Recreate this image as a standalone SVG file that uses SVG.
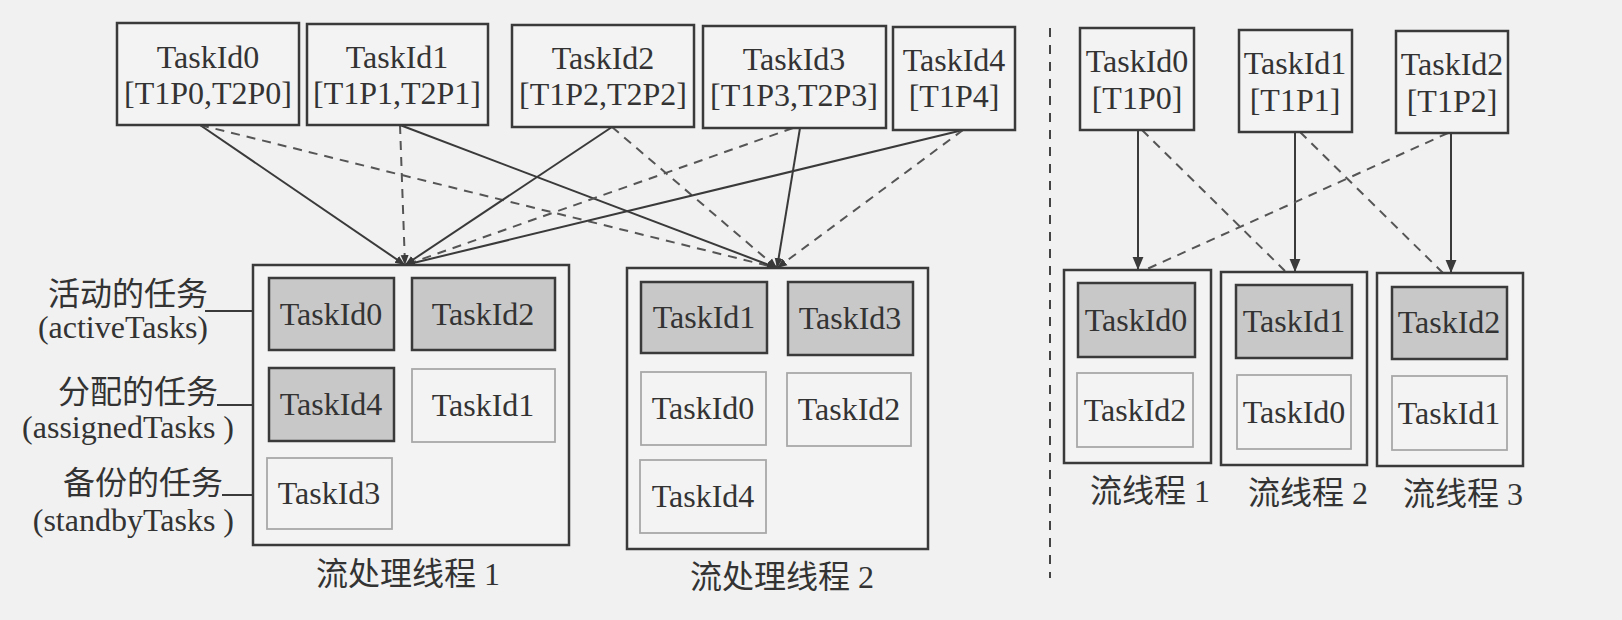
<svg xmlns="http://www.w3.org/2000/svg" width="1622" height="620" viewBox="0 0 1622 620">
<defs>
<style>
text{font-family:"Liberation Serif","Noto Sans CJK SC",serif;font-size:32px;fill:#333;text-anchor:middle}
.lbl{text-anchor:end}
.box{fill:#f3f3f3;stroke:#3a3a3a;stroke-width:2.5}
.act{fill:#c8c8c8;stroke:#3a3a3a;stroke-width:2.5}
.stb{fill:#f3f3f3;stroke:#a8a8a8;stroke-width:1.8}
.sol{fill:none;stroke:#3a3a3a;stroke-width:2}
.dsh{fill:none;stroke:#555;stroke-width:2;stroke-dasharray:9 7}
.lead{fill:none;stroke:#3a3a3a;stroke-width:2}
</style>
<marker id="ah" viewBox="0 0 10 10" refX="10" refY="5" markerWidth="10" markerHeight="10" markerUnits="userSpaceOnUse" orient="auto">
<path d="M0,1 L10,5 L0,9 z" fill="#3a3a3a"/>
</marker>
<marker id="ahb" viewBox="0 0 12 12" refX="12" refY="6" markerWidth="13" markerHeight="13" markerUnits="userSpaceOnUse" orient="auto">
<path d="M0,1 L12,6 L0,11 z" fill="#3a3a3a"/>
</marker>
</defs>
<rect width="1622" height="620" fill="#f1f1f1"/>

<g id="connectors">
<line class="sol" x1="200" y1="125" x2="405" y2="265" marker-end="url(#ah)"/>
<line class="dsh" x1="200" y1="125" x2="777" y2="268" marker-end="url(#ah)"/>
<line class="dsh" x1="400" y1="125" x2="405" y2="265" marker-end="url(#ah)"/>
<line class="sol" x1="400" y1="125" x2="777" y2="268" marker-end="url(#ah)"/>
<line class="sol" x1="612" y1="127" x2="405" y2="265" marker-end="url(#ah)"/>
<line class="dsh" x1="612" y1="127" x2="777" y2="268" marker-end="url(#ah)"/>
<line class="dsh" x1="793" y1="128" x2="405" y2="265" marker-end="url(#ah)"/>
<line class="sol" x1="800" y1="128" x2="777" y2="268" marker-end="url(#ah)"/>
<line class="sol" x1="963" y1="130" x2="405" y2="265" marker-end="url(#ah)"/>
<line class="dsh" x1="963" y1="130" x2="777" y2="268" marker-end="url(#ah)"/>

<line class="sol" x1="1138" y1="130" x2="1138" y2="270" marker-end="url(#ahb)"/>
<line class="dsh" x1="1142" y1="130" x2="1285" y2="271"/>
<line class="sol" x1="1295" y1="132" x2="1295" y2="272" marker-end="url(#ahb)"/>
<line class="dsh" x1="1300" y1="132" x2="1443" y2="273"/>
<line class="sol" x1="1451" y1="133" x2="1451" y2="273" marker-end="url(#ahb)"/>
<line class="dsh" x1="1448" y1="133" x2="1147" y2="269"/>

<line class="lead" x1="205" y1="311" x2="269" y2="311"/>
<line class="lead" x1="217" y1="405" x2="253" y2="405"/>
<line class="lead" x1="222" y1="495" x2="267" y2="495"/>

<line x1="1050" y1="28" x2="1050" y2="578" stroke="#444" stroke-width="2" stroke-dasharray="9 8"/>
</g>

<g id="top-t0"><rect class="box" x="117" y="23" width="182" height="102"/><text x="208" y="68">TaskId0</text><text x="208" y="104">[T1P0,T2P0]</text></g>
<g id="top-t1"><rect class="box" x="307" y="24" width="181" height="101"/><text x="397" y="68">TaskId1</text><text x="397" y="104">[T1P1,T2P1]</text></g>
<g id="top-t2"><rect class="box" x="512" y="25" width="182" height="102"/><text x="603" y="69">TaskId2</text><text x="603" y="105">[T1P2,T2P2]</text></g>
<g id="top-t3"><rect class="box" x="703" y="26" width="183" height="102"/><text x="794" y="70">TaskId3</text><text x="794" y="106">[T1P3,T2P3]</text></g>
<g id="top-t4"><rect class="box" x="893" y="27" width="122" height="103"/><text x="954" y="71">TaskId4</text><text x="954" y="107">[T1P4]</text></g>

<g id="thread1">
<rect class="box" x="253" y="265" width="316" height="280"/>
<rect class="act" x="269" y="278" width="125" height="72"/><text x="331" y="325">TaskId0</text>
<rect class="act" x="412" y="278" width="143" height="72"/><text x="483" y="325">TaskId2</text>
<rect class="act" x="269" y="368" width="125" height="73"/><text x="331" y="415">TaskId4</text>
<rect class="stb" x="412" y="369" width="143" height="73"/><text x="483" y="416">TaskId1</text>
<rect class="stb" x="267" y="458" width="125" height="71"/><text x="329" y="504">TaskId3</text>
<text x="408" y="585">流处理线程 1</text>
</g>

<g id="thread2">
<rect class="box" x="627" y="268" width="301" height="281"/>
<rect class="act" x="641" y="282" width="126" height="71"/><text x="704" y="328">TaskId1</text>
<rect class="act" x="788" y="282" width="125" height="73"/><text x="850" y="329">TaskId3</text>
<rect class="stb" x="641" y="372" width="125" height="73"/><text x="703" y="419">TaskId0</text>
<rect class="stb" x="787" y="373" width="124" height="73"/><text x="849" y="420">TaskId2</text>
<rect class="stb" x="640" y="460" width="126" height="73"/><text x="703" y="507">TaskId4</text>
<text x="782" y="588">流处理线程 2</text>
</g>

<g id="legend">
<text class="lbl" x="208" y="305">活动的任务</text>
<text class="lbl" x="208" y="338">(activeTasks)</text>
<text class="lbl" x="218" y="403">分配的任务</text>
<text class="lbl" x="234" y="438">(assignedTasks )</text>
<text class="lbl" x="223" y="494">备份的任务</text>
<text class="lbl" x="234" y="531">(standbyTasks )</text>
</g>

<g id="rtop-t0"><rect class="box" x="1080" y="28" width="114" height="102"/><text x="1137" y="72">TaskId0</text><text x="1137" y="109">[T1P0]</text></g>
<g id="rtop-t1"><rect class="box" x="1239" y="30" width="113" height="102"/><text x="1295" y="74">TaskId1</text><text x="1295" y="111">[T1P1]</text></g>
<g id="rtop-t2"><rect class="box" x="1396" y="31" width="112" height="102"/><text x="1452" y="75">TaskId2</text><text x="1452" y="112">[T1P2]</text></g>

<g id="rthread1">
<rect class="box" x="1064" y="270" width="147" height="193"/>
<rect class="act" x="1078" y="283" width="117" height="74"/><text x="1136" y="331">TaskId0</text>
<rect class="stb" x="1077" y="373" width="116" height="74"/><text x="1135" y="421">TaskId2</text>
<text x="1150" y="502">流线程 1</text>
</g>
<g id="rthread2">
<rect class="box" x="1221" y="272" width="146" height="193"/>
<rect class="act" x="1236" y="285" width="116" height="73"/><text x="1294" y="332">TaskId1</text>
<rect class="stb" x="1237" y="375" width="114" height="74"/><text x="1294" y="423">TaskId0</text>
<text x="1308" y="504">流线程 2</text>
</g>
<g id="rthread3">
<rect class="box" x="1377" y="273" width="146" height="193"/>
<rect class="act" x="1392" y="287" width="115" height="72"/><text x="1449" y="333">TaskId2</text>
<rect class="stb" x="1392" y="376" width="115" height="74"/><text x="1449" y="424">TaskId1</text>
<text x="1463" y="505">流线程 3</text>
</g>
</svg>
